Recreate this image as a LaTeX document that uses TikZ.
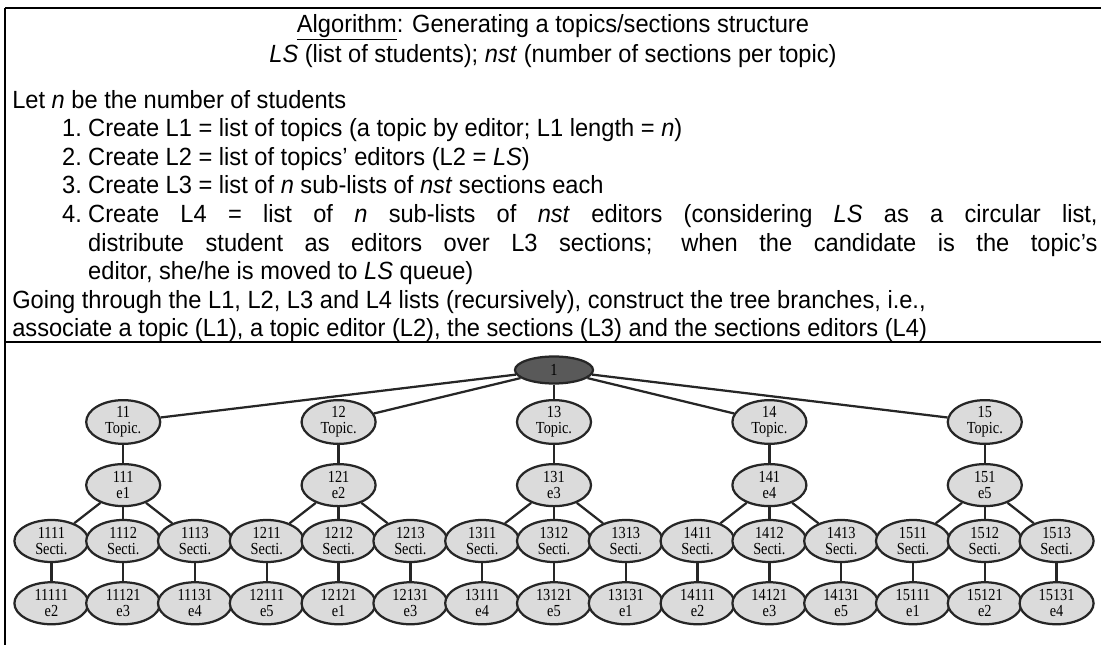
\documentclass[tikz,border=0pt]{standalone}
\usepackage{fontspec}
\setmainfont{Liberation Sans}[FakeStretch=0.95]
\newfontfamily\treefont{Liberation Serif}[FakeStretch=0.85]
\usepackage{tikz}
\usetikzlibrary{positioning,shapes.geometric}

% number in front of a step of the algorithm
\newcommand{\stepnum}[1]{\leavevmode\llap{\makebox[18.5pt][l]{#1}}}

\begin{document}
\begin{tikzpicture}[x=0.025cm, y=-0.025cm,
        frame/.style = {draw, line width=1.4pt},
        headtext/.style = {align=center, inner sep=0pt, font=\fontsize{17.7pt}{20.3pt}\selectfont},
        bodytext/.style = {anchor=north west, text width=27.125cm, align=justify, inner sep=0pt, font=\fontsize{17.7pt}{20.3pt}\selectfont},
        rootnode/.style = {ellipse, draw=black!85, line width=1.6pt, fill=black!65, minimum width=1.95cm, minimum height=0.675cm, inner sep=0pt, font=\treefont\fontsize{12pt}{11.5pt}\selectfont},
        treenode/.style = {ellipse, draw=black!85, line width=1.6pt, fill=black!14, minimum width=1.85cm, minimum height=1.05cm, inner sep=0pt, align=center, font=\treefont\fontsize{12pt}{11.5pt}\selectfont},
        branch/.style = {draw=black!85, line width=1.6pt},
        node distance=0.45cm
    ]
        \useasboundingbox (0,0) rectangle (1101,645);

        % Table lines
        \draw [frame] (5,8) -- (1101,8);
        \draw [frame] (5,8) -- (5,645);
        \draw [frame] (5,342) -- (1101,342);

        % Algorithm text
        \node [headtext] (title) at (553,27) {\underline{Algorithm}: Generating a topics/sections structure};
        \node [headtext] (inputs) at (553,56) {\textit{LS} (list of students); \textit{nst} (number of sections per topic)};
        \node [bodytext] (steps) at (12,90) {\parindent=0pt
            Let \textit{n} be the number of students\par
            {\leftskip=54pt
            \stepnum{1.}Create L1 = list of topics (a topic by editor; L1 length = \textit{n})\par
            \stepnum{2.}Create L2 = list of topics' editors (L2 = \textit{LS})\par
            \stepnum{3.}Create L3 = list of \textit{n} sub-lists of \textit{nst} sections each\par
            \stepnum{4.}Create L4 = list of \textit{n} sub-lists of \textit{nst} editors (considering \textit{LS} as a circular list,\linebreak
            distribute student as editors over L3 sections; when the candidate is the topic's\linebreak
            editor, she/he is moved to \textit{LS} queue)\par}
            Going through the L1, L2, L3 and L4 lists (recursively), construct the tree branches, i.e.,\par
            associate a topic (L1), a topic editor (L2), the sections (L3) and the sections editors (L4)};

        % Root
        \node [rootnode] (root) at (554,370) {1};

        % Topics
        \node [treenode] (topic11) at (123.2,422) {11\\Topic.};
        \node [treenode] (topic12) at (338.6,422) {12\\Topic.};
        \node [treenode] (topic13) at (554.0,422) {13\\Topic.};
        \node [treenode] (topic14) at (769.4,422) {14\\Topic.};
        \node [treenode] (topic15) at (984.8,422) {15\\Topic.};

        % Topic editors
        \node [treenode, below=of topic11] (ed111) {111\\e1};
        \node [treenode, below=of topic12] (ed121) {121\\e2};
        \node [treenode, below=of topic13] (ed131) {131\\e3};
        \node [treenode, below=of topic14] (ed141) {141\\e4};
        \node [treenode, below=of topic15] (ed151) {151\\e5};

        % Sections
        \node [treenode] (sec1111) at (51.4,541) {1111\\Secti.};
        \node [treenode] (sec1112) at (123.2,541) {1112\\Secti.};
        \node [treenode] (sec1113) at (195.0,541) {1113\\Secti.};
        \node [treenode] (sec1211) at (266.8,541) {1211\\Secti.};
        \node [treenode] (sec1212) at (338.6,541) {1212\\Secti.};
        \node [treenode] (sec1213) at (410.4,541) {1213\\Secti.};
        \node [treenode] (sec1311) at (482.2,541) {1311\\Secti.};
        \node [treenode] (sec1312) at (554.0,541) {1312\\Secti.};
        \node [treenode] (sec1313) at (625.8,541) {1313\\Secti.};
        \node [treenode] (sec1411) at (697.6,541) {1411\\Secti.};
        \node [treenode] (sec1412) at (769.4,541) {1412\\Secti.};
        \node [treenode] (sec1413) at (841.2,541) {1413\\Secti.};
        \node [treenode] (sec1511) at (913.0,541) {1511\\Secti.};
        \node [treenode] (sec1512) at (984.8,541) {1512\\Secti.};
        \node [treenode] (sec1513) at (1056.6,541) {1513\\Secti.};

        % Section editors
        \node [treenode, below=of sec1111] (leaf11111) {11111\\e2};
        \node [treenode, below=of sec1112] (leaf11121) {11121\\e3};
        \node [treenode, below=of sec1113] (leaf11131) {11131\\e4};
        \node [treenode, below=of sec1211] (leaf12111) {12111\\e5};
        \node [treenode, below=of sec1212] (leaf12121) {12121\\e1};
        \node [treenode, below=of sec1213] (leaf12131) {12131\\e3};
        \node [treenode, below=of sec1311] (leaf13111) {13111\\e4};
        \node [treenode, below=of sec1312] (leaf13121) {13121\\e5};
        \node [treenode, below=of sec1313] (leaf13131) {13131\\e1};
        \node [treenode, below=of sec1411] (leaf14111) {14111\\e2};
        \node [treenode, below=of sec1412] (leaf14121) {14121\\e3};
        \node [treenode, below=of sec1413] (leaf14131) {14131\\e5};
        \node [treenode, below=of sec1511] (leaf15111) {15111\\e1};
        \node [treenode, below=of sec1512] (leaf15121) {15121\\e2};
        \node [treenode, below=of sec1513] (leaf15131) {15131\\e4};

        % Lines
        \draw [branch] (root) -- (topic11);
        \draw [branch] (root) -- (topic12);
        \draw [branch] (root) -- (topic13);
        \draw [branch] (root) -- (topic14);
        \draw [branch] (root) -- (topic15);

        \draw [branch] (topic11) -- (ed111);
        \draw [branch] (topic12) -- (ed121);
        \draw [branch] (topic13) -- (ed131);
        \draw [branch] (topic14) -- (ed141);
        \draw [branch] (topic15) -- (ed151);

        \draw [branch] (ed111) -- (sec1111);
        \draw [branch] (ed111) -- (sec1112);
        \draw [branch] (ed111) -- (sec1113);
        \draw [branch] (ed121) -- (sec1211);
        \draw [branch] (ed121) -- (sec1212);
        \draw [branch] (ed121) -- (sec1213);
        \draw [branch] (ed131) -- (sec1311);
        \draw [branch] (ed131) -- (sec1312);
        \draw [branch] (ed131) -- (sec1313);
        \draw [branch] (ed141) -- (sec1411);
        \draw [branch] (ed141) -- (sec1412);
        \draw [branch] (ed141) -- (sec1413);
        \draw [branch] (ed151) -- (sec1511);
        \draw [branch] (ed151) -- (sec1512);
        \draw [branch] (ed151) -- (sec1513);

        \draw [branch] (sec1111) -- (leaf11111);
        \draw [branch] (sec1112) -- (leaf11121);
        \draw [branch] (sec1113) -- (leaf11131);
        \draw [branch] (sec1211) -- (leaf12111);
        \draw [branch] (sec1212) -- (leaf12121);
        \draw [branch] (sec1213) -- (leaf12131);
        \draw [branch] (sec1311) -- (leaf13111);
        \draw [branch] (sec1312) -- (leaf13121);
        \draw [branch] (sec1313) -- (leaf13131);
        \draw [branch] (sec1411) -- (leaf14111);
        \draw [branch] (sec1412) -- (leaf14121);
        \draw [branch] (sec1413) -- (leaf14131);
        \draw [branch] (sec1511) -- (leaf15111);
        \draw [branch] (sec1512) -- (leaf15121);
        \draw [branch] (sec1513) -- (leaf15131);
    \end{tikzpicture}
\end{document}
